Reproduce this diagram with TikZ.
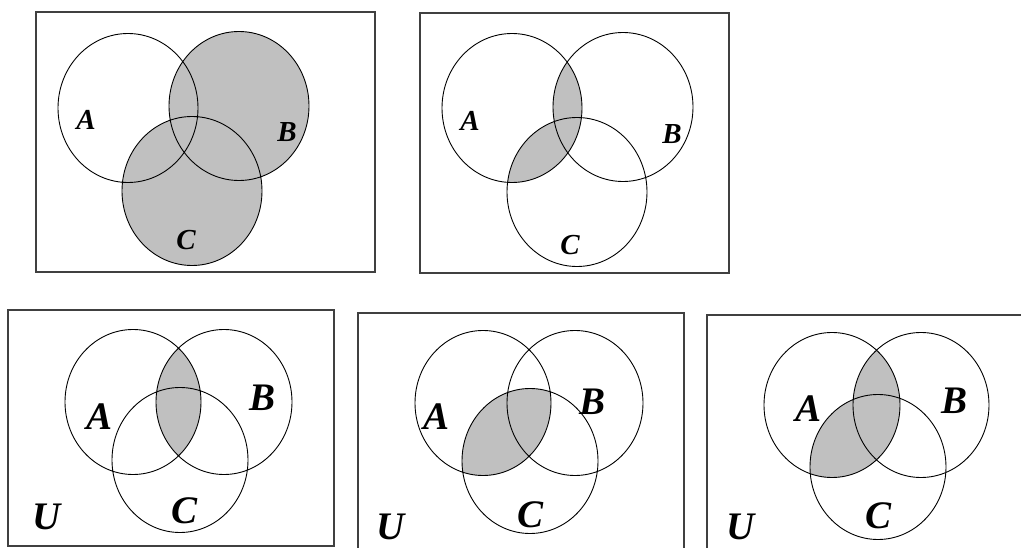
\documentclass[tikz,border=0pt]{standalone}
\usepackage{fontspec}
\setmainfont{Liberation Serif}
\usepackage{tikz}
\usepackage{xcolor}
\definecolor{VennShade}{HTML}{C0C0C0}
\definecolor{VennFrame}{HTML}{404040}
\tikzset{
    % Outline styles
    setoutline/.style={
        draw=black,
        line width=0.9pt
    },
    universebox/.style={
        draw=VennFrame,
        line width=1.4pt
    },
    shaded/.style={
        fill=VennShade
    },
    % Set sizes
    topsize/.style={x radius=70, y radius=74.5},
    lowsize/.style={x radius=68, y radius=72.5},
    % Label styles
    toplabel/.style={
        inner sep=0pt,
        font=\fontsize{29}{29}\selectfont\bfseries\itshape
    },
    lowlabel/.style={
        inner sep=0pt,
        font=\fontsize{39}{39}\selectfont\bfseries\itshape
    }
}

\begin{document}
\begin{tikzpicture}[x=1pt, y=-1pt]
    \useasboundingbox (0,0) rectangle (1021,548);

    % Panel 1: B union C
    \coordinate (a1) at (128,108);
    \coordinate (b1) at (239,106);
    \coordinate (c1) at (192,191);
    \fill[shaded] (b1) ellipse[topsize] (c1) ellipse[topsize];
    \draw[setoutline] (a1) ellipse[topsize] (b1) ellipse[topsize] (c1) ellipse[topsize];
    \draw[universebox] (36,12) rectangle (375,272);
    \node[toplabel] (la1) at (86,120) {A};
    \node[toplabel] (lb1) at (287,132) {B};
    \node[toplabel] (lc1) at (186,240) {C};

    % Panel 2: A with (B union C)
    \coordinate (a2) at (512,108);
    \coordinate (b2) at (623,107);
    \coordinate (c2) at (577,192);
    \begin{scope}
        \clip (a2) ellipse[topsize];
        \fill[shaded] (b2) ellipse[topsize] (c2) ellipse[topsize];
    \end{scope}
    \draw[setoutline] (a2) ellipse[topsize] (b2) ellipse[topsize] (c2) ellipse[topsize];
    \draw[universebox] (420,13) rectangle (729,273);
    \node[toplabel] (la2) at (470,121) {A};
    \node[toplabel] (lb2) at (672,134) {B};
    \node[toplabel] (lc2) at (570,245) {C};

    % Panel 3: A and B
    \coordinate (a3) at (133,402);
    \coordinate (b3) at (224,402);
    \coordinate (c3) at (180,460);
    \begin{scope}
        \clip (a3) ellipse[lowsize];
        \fill[shaded] (b3) ellipse[lowsize];
    \end{scope}
    \draw[setoutline] (a3) ellipse[lowsize] (b3) ellipse[lowsize] (c3) ellipse[lowsize];
    \draw[universebox] (8,310) rectangle (334,546);
    \node[lowlabel] (la3) at (100,417) {A};
    \node[lowlabel] (lb3) at (263,398) {B};
    \node[lowlabel] (lc3) at (185,511) {C};
    \node[lowlabel] (lu3) at (47,517) {U};

    % Panel 4: A and C
    \coordinate (a4) at (483,403);
    \coordinate (b4) at (575,403);
    \coordinate (c4) at (530,461);
    \begin{scope}
        \clip (a4) ellipse[lowsize];
        \fill[shaded] (c4) ellipse[lowsize];
    \end{scope}
    \draw[setoutline] (a4) ellipse[lowsize] (b4) ellipse[lowsize] (c4) ellipse[lowsize];
    \draw[universebox] (358,313) rectangle (684,560);
    \node[lowlabel] (la4) at (437,417) {A};
    \node[lowlabel] (lb4) at (593,402) {B};
    \node[lowlabel] (lc4) at (531,515) {C};
    \node[lowlabel] (lu4) at (391,527) {U};

    % Panel 5: A with (B union C)
    \coordinate (a5) at (832,405);
    \coordinate (b5) at (921,405);
    \coordinate (c5) at (878,467);
    \begin{scope}
        \clip (a5) ellipse[lowsize];
        \fill[shaded] (b5) ellipse[lowsize] (c5) ellipse[lowsize];
    \end{scope}
    \draw[setoutline] (a5) ellipse[lowsize] (b5) ellipse[lowsize] (c5) ellipse[lowsize];
    \draw[universebox] (707,315) rectangle (1030,560);
    \node[lowlabel] (la5) at (808,409) {A};
    \node[lowlabel] (lb5) at (954,401) {B};
    \node[lowlabel] (lc5) at (878,516) {C};
    \node[lowlabel] (lu5) at (741,527) {U};
\end{tikzpicture}
\end{document}
